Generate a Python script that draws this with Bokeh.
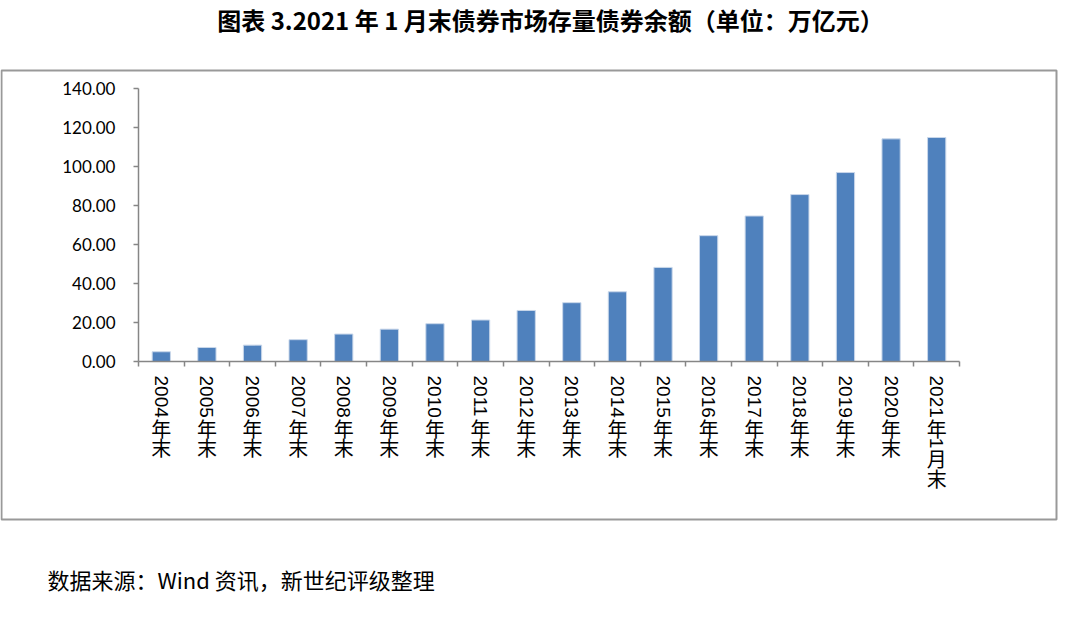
import math
from bokeh.plotting import figure
from bokeh.models import Range1d, FixedTicker, Label, BoxAnnotation
from bokeh.embed import file_html
from bokeh.resources import INLINE

# ---------------- data ----------------
TITLE = "图表 3.2021 年 1 月末债券市场存量债券余额（单位：万亿元）"
SOURCE = "数据来源：Wind 资讯，新世纪评级整理"
CATEGORIES = ["2004年末", "2005年末", "2006年末", "2007年末", "2008年末",
              "2009年末", "2010年末", "2011年末", "2012年末", "2013年末",
              "2014年末", "2015年末", "2016年末", "2017年末", "2018年末",
              "2019年末", "2020年末", "2021年1月末"]
VALUES = [5.0, 7.2, 8.4, 11.2, 14.1, 16.6, 19.4, 21.3, 26.2, 30.2,
          35.8, 48.3, 64.6, 74.7, 85.7, 97.0, 114.3, 115.0]
Y_TICKS = [0, 20, 40, 60, 80, 100, 120, 140]
Y_TICK_LABELS = ["0.00", "20.00", "40.00", "60.00", "80.00", "100.00", "120.00", "140.00"]

# ---------------- layout / styles ----------------
W, H = 1080, 624
PLOT_LEFT, PLOT_RIGHT = 138.0, 959.0      # pixel extent of the category axis
PLOT_TOP, PLOT_BOTTOM = 88.3, 361.0       # pixel extent of the value axis
BOX = (1, 1056, 70, 519)                  # left, right, top, bottom (pixels)
BAR_COLOR = "#4F81BD"
AXIS_COLOR = "#868686"
BOX_COLOR = "#999999"
CJK_FONT = "Noto Sans CJK SC"
DIGIT_FONT = "Liberation Sans"
DIGIT_SIZE = 19
DIGIT_ADV = 0.556 * DIGIT_SIZE
CJK_SIZE = 20
CJK_ADV = 19.6
LABEL_TOP_GAP = 14

n = len(CATEGORIES)
y_lo, y_hi = Y_TICKS[0], Y_TICKS[-1]
x_ppu = (PLOT_RIGHT - PLOT_LEFT) / n
y_ppu = (PLOT_BOTTOM - PLOT_TOP) / (y_hi - y_lo)

def sy(py):
    return H - py

p = figure(width=W, height=H, output_backend="svg", toolbar_location=None,
           x_range=Range1d(-PLOT_LEFT / x_ppu, (W - PLOT_LEFT) / x_ppu),
           y_range=Range1d(y_lo - (H - PLOT_BOTTOM) / y_ppu, y_hi + PLOT_TOP / y_ppu),
           min_border=0, min_border_left=0, min_border_right=0,
           min_border_top=0, min_border_bottom=0)
p.outline_line_color = None
p.background_fill_color = "white"
p.border_fill_color = "white"
p.xgrid.visible = False
p.ygrid.visible = False

centers = [i + 0.5 for i in range(n)]
p.vbar(x=centers, top=VALUES, bottom=0, width=0.4, fill_color=BAR_COLOR,
       line_color="#C9D7EA", line_width=1)

# y axis (placed inside the canvas)
ya = p.yaxis[0]
ya.fixed_location = 0
ya.bounds = (y_lo, y_hi)
ya.ticker = FixedTicker(ticks=Y_TICKS)
ya.major_label_overrides = {t: s for t, s in zip(Y_TICKS, Y_TICK_LABELS)}
ya.major_tick_out = 5
ya.major_tick_in = 0
ya.minor_tick_line_color = None
ya.axis_line_color = AXIS_COLOR
ya.axis_line_width = 1.5
ya.major_tick_line_color = AXIS_COLOR
ya.major_tick_line_width = 1.5
ya.major_label_text_font = "Lato"
ya.major_label_text_font_size = "17px"
ya.major_label_text_color = "black"
ya.major_label_standoff = 18

# x axis: ticks at category boundaries
xa = p.xaxis[0]
xa.fixed_location = 0
xa.bounds = (0, n)
xa.ticker = FixedTicker(ticks=list(range(n + 1)))
xa.major_label_overrides = {i: "" for i in range(n + 1)}
xa.major_label_text_font_size = "0px"
xa.major_tick_out = 5
xa.major_tick_in = 0
xa.minor_tick_line_color = None
xa.axis_line_color = AXIS_COLOR
xa.axis_line_width = 1.5
xa.major_tick_line_color = AXIS_COLOR
xa.major_tick_line_width = 1.5

# category labels: digits rotated clockwise, CJK upright, stacked vertically
def split_runs(s):
    runs, cur = [], ""
    for ch in s:
        if ch.isascii():
            cur += ch
        else:
            if cur:
                runs.append(("lat", cur))
                cur = ""
            runs.append(("cjk", ch))
    if cur:
        runs.append(("lat", cur))
    return runs

for xc, cat in zip(centers, CATEGORIES):
    y = sy(PLOT_BOTTOM + LABEL_TOP_GAP)
    for kind, txt in split_runs(cat):
        if kind == "lat":
            p.add_layout(Label(x=xc, y=y, x_units="data", y_units="screen", text=txt,
                               angle=-math.pi / 2, text_align="left", text_baseline="middle",
                               text_font=DIGIT_FONT, text_font_size=f"{DIGIT_SIZE}px",
                               text_color="black"))
            y -= len(txt) * DIGIT_ADV + 0.5
        else:
            p.add_layout(Label(x=xc, y=y - CJK_ADV / 2, x_units="data", y_units="screen",
                               text=txt, text_align="center", text_baseline="middle",
                               text_font=CJK_FONT, text_font_size=f"{CJK_SIZE}px",
                               text_color="black"))
            y -= CJK_ADV

# outer chart box
bl, br, bt, bb = BOX
p.add_layout(BoxAnnotation(left=bl, right=br, top=sy(bt), bottom=sy(bb),
                           left_units="screen", right_units="screen",
                           top_units="screen", bottom_units="screen",
                           fill_alpha=0, fill_color=None,
                           line_color=BOX_COLOR, line_alpha=1.0, line_width=2))

# title and source
p.add_layout(Label(x=550, y=sy(18.5), x_units="screen", y_units="screen", text=TITLE,
                   text_align="center", text_baseline="middle", text_font=CJK_FONT,
                   text_font_size="24px", text_font_style="bold", text_color="black"))
p.add_layout(Label(x=47, y=sy(578), x_units="screen", y_units="screen", text=SOURCE,
                   text_align="left", text_baseline="middle", text_font=CJK_FONT,
                   text_font_size="22px", text_color="black"))

open("out.html", "w").write(file_html(p, INLINE))
